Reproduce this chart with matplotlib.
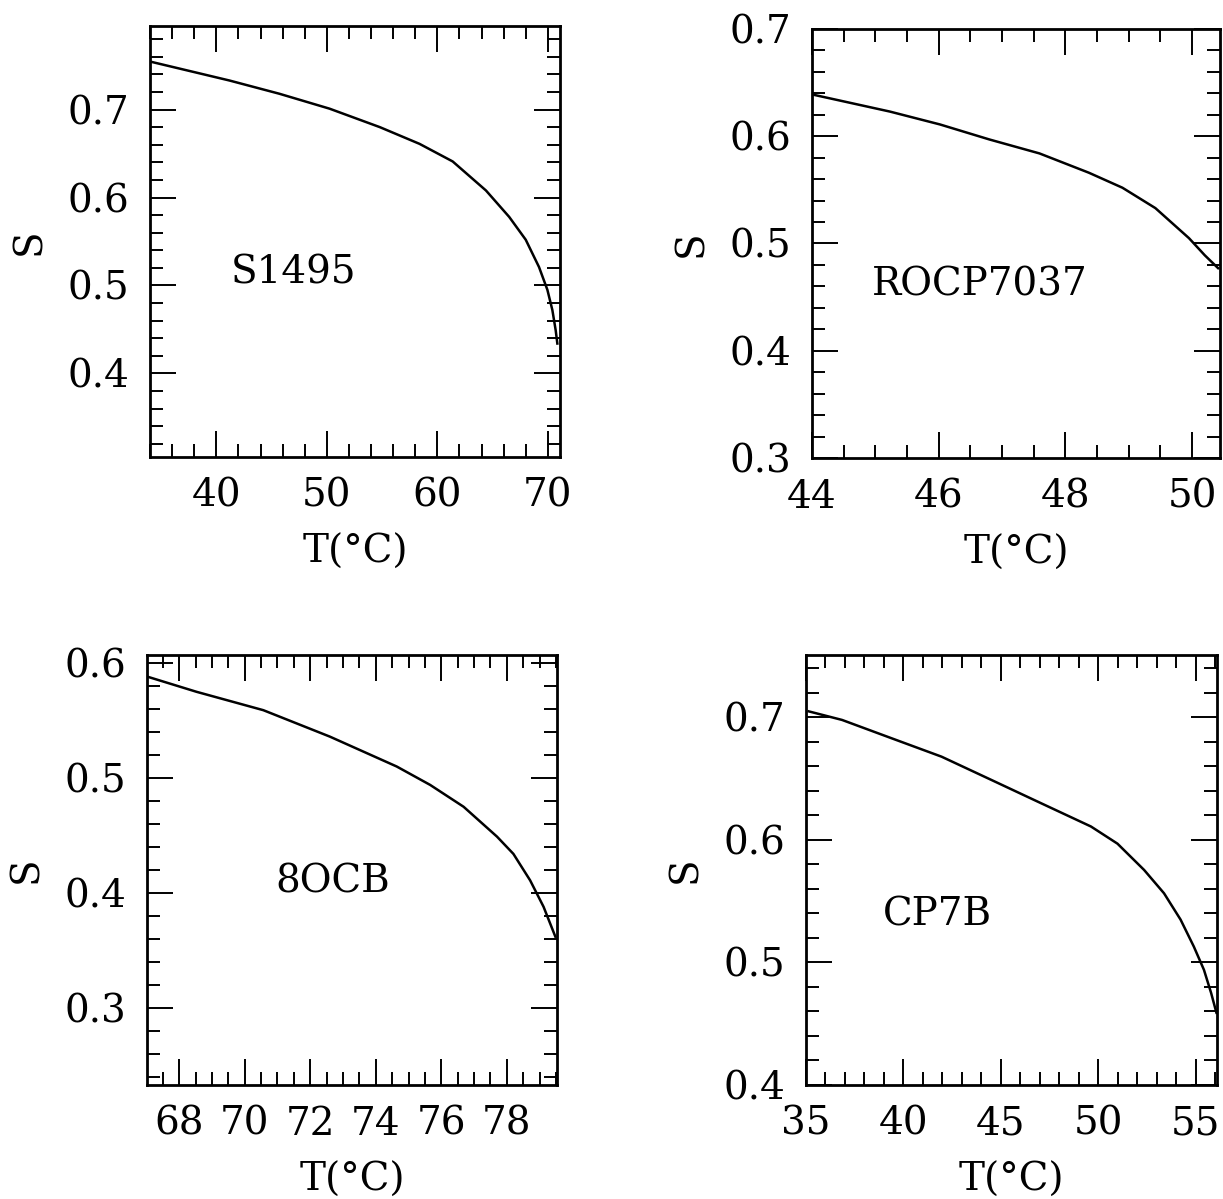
"""
Order parameter S vs temperature for four liquid crystals.
"""

import matplotlib

matplotlib.use("Agg")
import matplotlib.pyplot as plt
from matplotlib.ticker import FormatStrFormatter, MultipleLocator

matplotlib.rcParams["font.family"] = ["DejaVu Serif"]
matplotlib.rcParams["font.size"] = 28

# S1495
t_s1495 = [34.2, 41.2, 45.7, 50.25, 54.8, 58.39, 61.39, 64.4, 66.5, 68.0, 69.2, 69.96, 70.41, 70.71, 70.86]
s_s1495 = [0.754, 0.733, 0.718, 0.701, 0.680, 0.661, 0.641, 0.608, 0.578, 0.552, 0.521, 0.495, 0.472, 0.449, 0.434]

# ROCP7037
t_rocp = [44.0, 45.23, 46.02, 46.8, 47.59, 48.37, 48.9, 49.42, 49.95, 50.2, 50.41]
s_rocp = [0.639, 0.623, 0.611, 0.597, 0.584, 0.566, 0.552, 0.533, 0.505, 0.489, 0.477]

# 8OCB
t_8ocb = [67.05, 68.53, 70.57, 72.6, 74.64, 75.66, 76.68, 77.7, 78.2, 78.71, 79.12, 79.3, 79.48]
s_8ocb = [0.588, 0.575, 0.559, 0.536, 0.510, 0.494, 0.475, 0.449, 0.434, 0.411, 0.388, 0.375, 0.362]

# CP7B
t_cp7b = [35.14, 36.85, 39.4, 41.96, 44.52, 47.07, 49.63, 50.99, 52.36, 53.38, 54.23, 54.91, 55.43, 55.8, 56.07]
s_cp7b = [0.705, 0.698, 0.683, 0.668, 0.649, 0.630, 0.611, 0.597, 0.5755, 0.5565, 0.535, 0.513, 0.494, 0.475, 0.459]

W, H = 1223, 1199

panels = [
    # pixel box (left, top, right, bottom), data, limits, tick steps, name + position
    dict(box=(150, 26, 560, 457), t=t_s1495, s=s_s1495,
         xlim=(34.0, 71.1), ylim=(0.305, 0.795), xmaj=10, xmin=2,
         name="S1495", pos=(0.349, 0.427)),
    dict(box=(812, 29, 1220, 458), t=t_rocp, s=s_rocp,
         xlim=(44.0, 50.44), ylim=(0.3, 0.7), xmaj=2, xmin=0.5,
         name="ROCP7037", pos=(0.412, 0.403)),
    dict(box=(147, 655, 557, 1085), t=t_8ocb, s=s_8ocb,
         xlim=(67.02, 79.53), ylim=(0.233, 0.607), xmaj=2, xmin=0.5,
         name="8OCB", pos=(0.454, 0.472)),
    dict(box=(806, 655, 1217, 1085), t=t_cp7b, s=s_cp7b,
         xlim=(35.0, 56.1), ylim=(0.4, 0.751), xmaj=5, xmin=1,
         name="CP7B", pos=(0.321, 0.395)),
]

fig = plt.figure(figsize=(W / 100, H / 100), dpi=100)

for p in panels:
    l, t, r, b = p["box"]
    ax = fig.add_axes([l / W, 1 - b / H, (r - l) / W, (b - t) / H])

    ax.plot(p["t"], p["s"], color="black", linewidth=1.8)

    ax.set_xlim(*p["xlim"])
    ax.set_ylim(*p["ylim"])

    ax.xaxis.set_major_locator(MultipleLocator(p["xmaj"]))
    ax.xaxis.set_minor_locator(MultipleLocator(p["xmin"]))
    ax.yaxis.set_major_locator(MultipleLocator(0.1))
    ax.yaxis.set_minor_locator(MultipleLocator(0.02))
    ax.xaxis.set_major_formatter(FormatStrFormatter("%d"))
    ax.yaxis.set_major_formatter(FormatStrFormatter("%.1f"))

    ax.tick_params(which="both", direction="in", top=True, right=True, width=1.4)
    ax.tick_params(which="major", length=19, pad=15)
    ax.tick_params(which="minor", length=9.5)
    for sp in ax.spines.values():
        sp.set_linewidth(2)

    ax.set_xlabel("T(°C)", labelpad=14)
    ax.set_ylabel("S", labelpad=14)

    ax.text(p["pos"][0], p["pos"][1], p["name"], transform=ax.transAxes,
            ha="center", va="center")

fig.savefig("out.png", dpi=100)
